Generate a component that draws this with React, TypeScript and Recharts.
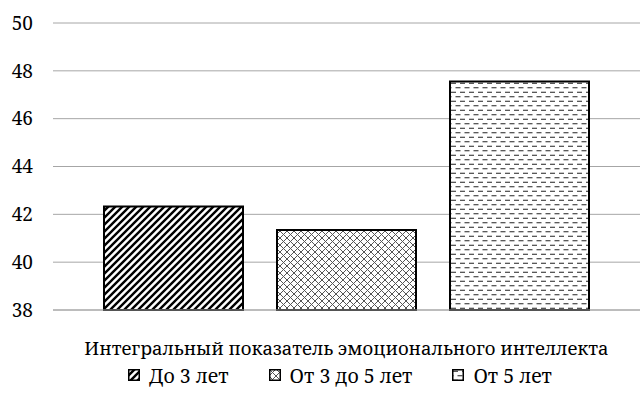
import React from 'react';
import { BarChart, Bar, XAxis, YAxis, CartesianGrid, Legend } from 'recharts';

const categories = ['Интегральный показатель эмоционального интеллекта'];
const seriesNames = ['До 3 лет', 'От 3 до 5 лет', 'От 5 лет'];
const upTo3 = [42.33];
const from3to5 = [41.34];
const over5 = [47.55];
const yTicks = [38, 40, 42, 44, 46, 48, 50];

const data = categories.map((c, i) => ({
  category: c,
  upTo3: upTo3[i],
  from3to5: from3to5[i],
  over5: over5[i],
}));

const FONT = "'Noto Serif'";
const patternIds = ['pDiag', 'pCross', 'pDash'];

const PatternDefs = ({ suffix }: { suffix: string }) => (
  <defs>
    <pattern id={`pDiag${suffix}`} width={7} height={7} patternUnits="userSpaceOnUse">
      <rect width={7} height={7} fill="#fff" />
      <path d="M-1,1 l2,-2 M0,7 l7,-7 M6,8 l2,-2" stroke="#000" strokeWidth={2.4} />
    </pattern>
    <pattern id={`pCross${suffix}`} width={7} height={7} patternUnits="userSpaceOnUse">
      <rect width={7} height={7} fill="#fff" />
      <path d="M0,0 L7,7 M7,0 L0,7" stroke="#555" strokeWidth={1} />
    </pattern>
    <pattern id={`pDash${suffix}`} width={9} height={9} patternUnits="userSpaceOnUse">
      <rect width={9} height={9} fill="#fff" />
      <path d="M1,2.25 h5 M5.5,6.75 h5 M-3.5,6.75 h5" stroke="#222" strokeWidth={1} />
    </pattern>
  </defs>
);

const LegendContent = () => (
  <div
    style={{
      display: 'flex',
      justifyContent: 'center',
      alignItems: 'center',
      height: 30,
      paddingLeft: 40,
      fontFamily: FONT,
      fontSize: 19.5,
      color: '#000',
    }}
  >
    {seriesNames.map((name, i) => (
      <div key={name} style={{ display: 'flex', alignItems: 'center', marginRight: i < 2 ? 40 : 0 }}>
        <svg width={12} height={12} style={{ marginRight: 9 }}>
          <PatternDefs suffix={`L${i}`} />
          <rect x={0.75} y={0.75} width={10.5} height={10.5} fill={`url(#${patternIds[i]}L${i})`} stroke="#000" strokeWidth={1.5} />
        </svg>
        <span>{name}</span>
      </div>
    ))}
  </div>
);

export default function App() {
  return (
    <div style={{ position: 'absolute', left: 0, top: 0, width: 640, height: 403, background: '#fff' }}>
      <BarChart
        width={640}
        height={403}
        data={data}
        margin={{ top: 23, right: 0, left: 0, bottom: 13 }}
        barSize={139}
        barGap={34}
      >
        <PatternDefs suffix="" />
        <CartesianGrid horizontal vertical={false} stroke="#a6a6a6" strokeWidth={1} />
        <XAxis
          dataKey="category"
          height={50}
          tickLine={false}
          tickSize={0}
          tickMargin={32}
          axisLine={{ stroke: '#a6a6a6', strokeWidth: 1 }}
          tick={{ fontFamily: FONT, fontSize: 18.5, fill: '#000' }}
        />
        <YAxis
          width={53}
          domain={[38, 50]}
          ticks={yTicks}
          axisLine={false}
          tickLine={false}
          tickMargin={14}
          tick={{ fontFamily: FONT, fontSize: 19, fill: '#000' }}
        />
        <Legend verticalAlign="bottom" height={30} content={<LegendContent />} />
        <Bar dataKey="upTo3" name={seriesNames[0]} fill="url(#pDiag)" stroke="#000" strokeWidth={2} isAnimationActive={false} />
        <Bar dataKey="from3to5" name={seriesNames[1]} fill="url(#pCross)" stroke="#000" strokeWidth={2} isAnimationActive={false} />
        <Bar dataKey="over5" name={seriesNames[2]} fill="url(#pDash)" stroke="#000" strokeWidth={2} isAnimationActive={false} />
      </BarChart>
    </div>
  );
}
